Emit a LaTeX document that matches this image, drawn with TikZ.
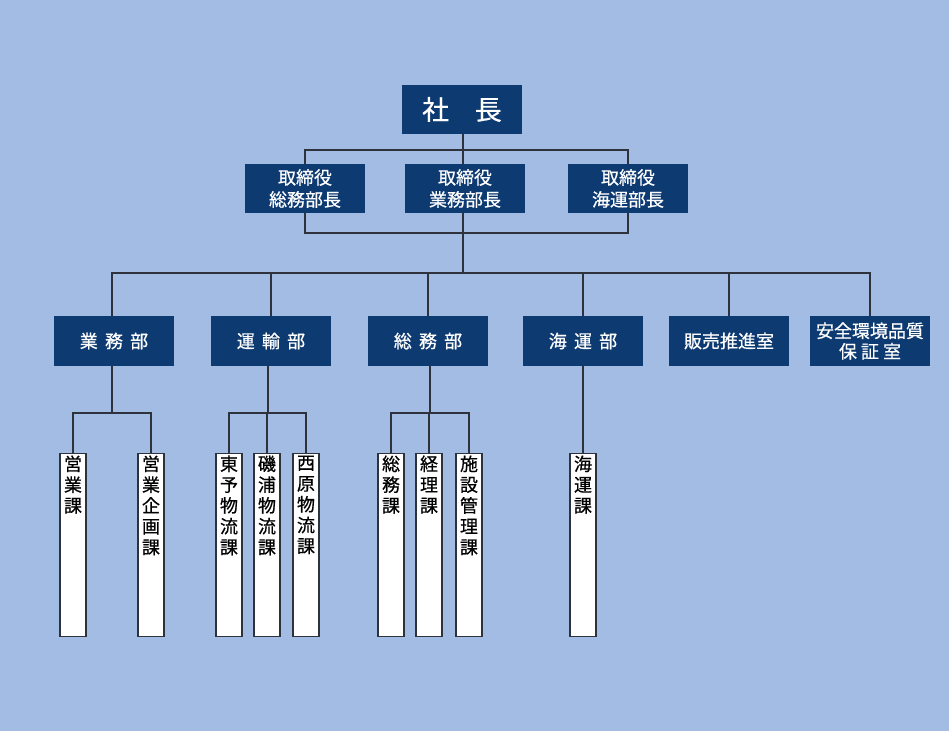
\documentclass[tikz,border=0pt]{standalone}
\usepackage{fontspec}
\setmainfont{Noto Sans CJK JP}
\newfontfamily\boxfont[FakeBold=0.6]{Noto Sans CJK JP}
\usetikzlibrary{positioning}
\definecolor{bgblue}{RGB}{163,188,227}
\definecolor{navy}{RGB}{14,58,114}
\definecolor{wiregray}{RGB}{45,50,60}
\tikzset{
    x=1pt, y=-1pt, % pixel like coordinates
    head/.style={rectangle, fill=navy, text=white, inner sep=0pt, minimum width=120pt, minimum height=49pt, align=center, font=\boxfont\fontsize{18}{22}\selectfont},
    dept/.style={head, minimum height=50pt},
    sect/.style={rectangle, draw=wiregray, fill=white, inner sep=0pt, line width=1.1pt, anchor=north},
    wire/.style={draw=wiregray, line width=1.1pt},
}
\newcommand{\gp}{\hspace{0.4em}}
\newcommand{\secttext}[1]{\parbox[t][183pt][t]{26pt}{\centering\boxfont\fontsize{18}{20.8}\selectfont\vspace*{2pt}#1}}

\begin{document}
\begin{tikzpicture}
        % Background
        \fill[bgblue] (0,0) rectangle (949,731);

        % Nodes
        \node[head, font=\boxfont\fontsize{27}{30}\selectfont] (P0) at (462,109.5) {社\hspace{0.95em}長};

        \node[head] (E1) at (305,188.5) {取締役\\総務部長};
        \node[head] (E2) at (465,188.5) {取締役\\業務部長};
        \node[head] (E3) at (628,188.5) {取締役\\海運部長};

        \node[dept] (D1) at (114,341) {業\gp 務\gp 部};
        \node[dept] (D2) at (271,341) {運\gp 輸\gp 部};
        \node[dept] (D3) at (428,341) {総\gp 務\gp 部};
        \node[dept] (D4) at (583,341) {海\gp 運\gp 部};
        \node[dept] (D5) at (729,341) {販売推進室};
        \node[dept, font=\boxfont\fontsize{18}{20.5}\selectfont] (D6) at (870,341) {安全環境品質\\保 証 室};

        \node[sect] (S1) at (73,453) {\secttext{営\\業\\課}};
        \node[sect] (S2) at (151,453) {\secttext{営\\業\\企\\画\\課}};
        \node[sect] (S3) at (229,453) {\secttext{東\\予\\物\\流\\課}};
        \node[sect] (S4) at (267,453) {\secttext{磯\\浦\\物\\流\\課}};
        \node[sect] (S5) at (306,453) {\secttext{西\\原\\物\\流\\課}};
        \node[sect] (S6) at (391,453) {\secttext{総\\務\\課}};
        \node[sect] (S7) at (429,453) {\secttext{経\\理\\課}};
        \node[sect] (S8) at (469,453) {\secttext{施\\設\\管\\理\\課}};
        \node[sect] (S9) at (583,453) {\secttext{海\\運\\課}};

        % Junctions
        \coordinate (J1) at (463,150);
        \coordinate (J2) at (463,233);
        \coordinate (J3) at (463,273);
        \coordinate (K1) at (112,413);
        \coordinate (K2) at (268,413);
        \coordinate (K3) at (430,413);

        % Draw lines
        \draw[wire] (P0.south -| J1) -- (J1);
        \draw[wire] (E1.north) |- (J1) -| (E3.north);
        \draw[wire] (J1) -- (J1 |- E2.north);
        \draw[wire] (E1.south) |- (J2) -| (E3.south);
        \draw[wire] (J3 |- E2.south) -- (J3);
        \draw[wire] (D1.north -| K1) |- (J3) -| (D6.north);
        \foreach \d in {D2,D3,D4,D5}
            \draw[wire] (\d.north) -- (\d.north |- J3);

        \draw[wire] (D1.south -| K1) -- (K1);
        \draw[wire] (S1.north) |- (K1) -| (S2.north);
        \draw[wire] (D2.south -| K2) -- (K2);
        \draw[wire] (S3.north) |- (K2) -| (S5.north);
        \draw[wire] (S4.north) -- (S4.north |- K2);
        \draw[wire] (D3.south -| K3) -- (K3);
        \draw[wire] (S6.north) |- (K3) -| (S8.north);
        \draw[wire] (S7.north) -- (S7.north |- K3);
        \draw[wire] (D4.south) -- (S9.north);
    \end{tikzpicture}
\end{document}
